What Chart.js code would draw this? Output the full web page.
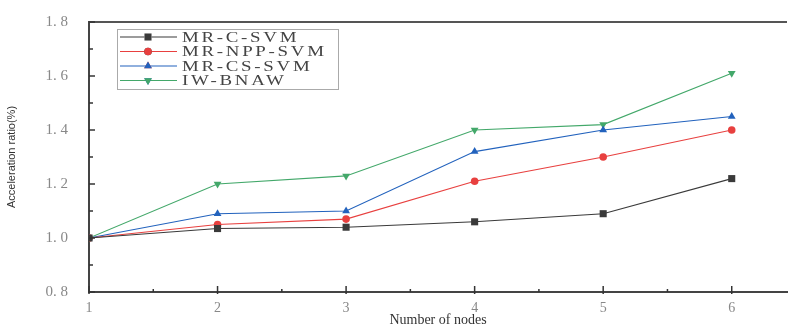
<!DOCTYPE html>
<html>
<head>
<meta charset="utf-8">
<script src="https://cdn.jsdelivr.net/npm/chart.js@4.4.1/dist/chart.umd.min.js"></script>
<style>
  html, body { margin: 0; padding: 0; background: #fff; }
  #wrap { width: 792px; height: 329px; }
</style>
</head>
<body>
<div id="wrap"><canvas id="graph"></canvas></div>
<script>
var nodes = [1, 2, 3, 4, 5, 6];
var mrCSvm = [1.00, 1.035, 1.04, 1.06, 1.09, 1.22];
var mrNppSvm = [1.00, 1.05, 1.07, 1.21, 1.30, 1.40];
var mrCsSvm = [1.00, 1.09, 1.10, 1.32, 1.40, 1.45];
var iwBnaw = [1.00, 1.20, 1.23, 1.40, 1.42, 1.61];
var yTicks = [0.8, 1.0, 1.2, 1.4, 1.6, 1.8];
var yTickLabels = ['0. 8', '1. 0', '1. 2', '1. 4', '1. 6', '1. 8'];
var xTickLabels = ['1', '2', '3', '4', '5', '6'];

var series = [
    {name: 'MR-C-SVM', data: mrCSvm, color: '#3a3a3a', style: 'rect', rot: 0, r: 5},
    {name: 'MR-NPP-SVM', data: mrNppSvm, color: '#e8403f', style: 'circle', rot: 0, r: 3.8},
    {name: 'MR-CS-SVM', data: mrCsSvm, color: '#2262bd', style: 'triangle', rot: 0, r: 4.5},
    {name: 'IW-BNAW', data: iwBnaw, color: '#43a86a', style: 'triangle', rot: 180, r: 4.5}
];

function toPoints(vals){
    return vals.map(function(v, i){ return {x: nodes[i], y: v}; });
}

var datasets = [];
for(let i = 0; i < series.length; i++){
    let s = series[i];
    datasets.push({
        label: s.name,
        data: toPoints(s.data),
        borderColor: s.color,
        backgroundColor: s.color,
        borderWidth: 1.1,
        pointStyle: s.style,
        pointRotation: s.rot,
        pointRadius: s.r,
        pointBorderWidth: 0,
        tension: 0
    });
}

// inward ticks, top frame and the legend box inside the plot
var framePlugin = {
    id: 'frame',
    afterDraw: function(chart){
        var c = chart.ctx, a = chart.chartArea;
        var xs = chart.scales.x, ys = chart.scales.y;
        c.save();
        c.strokeStyle = '#555';
        c.lineWidth = 2;
        c.beginPath();
        c.moveTo(a.left, a.top);
        c.lineTo(a.right, a.top);
        c.stroke();
        c.strokeStyle = '#333';
        c.lineWidth = 1.5;
        for(let v = 0.8; v <= 1.801; v += 0.1){
            let y = ys.getPixelForValue(v);
            let major = Math.round(v * 10) % 2 == 0;
            c.beginPath();
            c.moveTo(a.left, y);
            c.lineTo(a.left + (major ? 6 : 4), y);
            c.stroke();
        }
        for(let v = 1; v <= 6.01; v += 0.5){
            let x = xs.getPixelForValue(v);
            let major = v % 1 == 0;
            c.beginPath();
            c.moveTo(x, a.bottom + (major ? 2 : 0));
            c.lineTo(x, a.bottom - (major ? 6 : 3));
            c.stroke();
        }
        // legend
        var bx = 117, by = 29, bw = 221, bh = 60;
        c.fillStyle = '#fff';
        c.fillRect(bx, by, bw, bh);
        c.strokeStyle = '#aaa';
        c.lineWidth = 1;
        c.strokeRect(bx + 0.5, by + 0.5, bw, bh);
        c.textBaseline = 'middle';
        for(let i = 0; i < chart.data.datasets.length; i++){
            let ds = chart.data.datasets[i];
            let y = by + 8 + i * 14.5;
            c.strokeStyle = ds.borderColor;
            c.lineWidth = 1.1;
            c.beginPath();
            c.moveTo(bx + 3, y);
            c.lineTo(bx + 60, y);
            c.stroke();
            Chart.helpers.drawPoint(c, {pointStyle: ds.pointStyle, radius: ds.pointRadius, rotation: ds.pointRotation, borderWidth: 0}, bx + 31, y);
            c.fillStyle = ds.borderColor;
            c.fill();
            // wide lettering like the original
            c.save();
            c.translate(bx + 65, y + 1);
            c.scale(1.35, 1);
            c.font = '14px "Liberation Serif", serif';
            c.letterSpacing = '2px';
            c.fillStyle = '#444';
            c.fillText(ds.label, 0, 0);
            c.restore();
        }
        c.restore();
    }
};

var ctx = document.getElementById('graph').getContext('2d');
var chart = new Chart(ctx, {
    type: 'line',
    data: {datasets: datasets},
    options: {
        responsive: true,
        maintainAspectRatio: false,
        animation: false,
        layout: {padding: {top: 15, right: 0, left: 0, bottom: 0}},
        plugins: {legend: {display: false}, tooltip: {enabled: false}},
        scales: {
            x: {
                type: 'linear',
                min: 1,
                max: 6.43,
                afterFit: function(s){ s.height = 37; },
                afterBuildTicks: function(s){ s.ticks = nodes.map(function(n){ return {value: n}; }); },
                grid: {display: false},
                border: {display: true, color: '#444', width: 2},
                ticks: {
                    color: '#888',
                    padding: 0,
                    font: {family: '"Liberation Serif", serif', size: 14},
                    callback: function(v, i){ return xTickLabels[i]; }
                },
                title: {
                    display: true,
                    text: 'Number of nodes',
                    color: '#333',
                    padding: {top: 0, bottom: 0},
                    font: {family: '"Liberation Serif", serif', size: 14}
                }
            },
            y: {
                min: 0.8,
                max: 1.8,
                afterFit: function(s){ s.width = 89; },
                afterBuildTicks: function(s){ s.ticks = yTicks.map(function(t){ return {value: t}; }); },
                grid: {display: false},
                border: {display: true, color: '#444', width: 2},
                ticks: {
                    color: '#888',
                    padding: 13,
                    font: {family: '"Liberation Serif", serif', size: 15},
                    callback: function(v, i){ return yTickLabels[i]; }
                },
                title: {
                    display: true,
                    text: 'Acceleration ratio(%)',
                    color: '#333',
                    padding: {top: 5, bottom: 0},
                    font: {family: '"Liberation Sans Narrow", "Liberation Sans", sans-serif', size: 11}
                }
            }
        }
    },
    plugins: [framePlugin]
});
</script>
</body>
</html>
